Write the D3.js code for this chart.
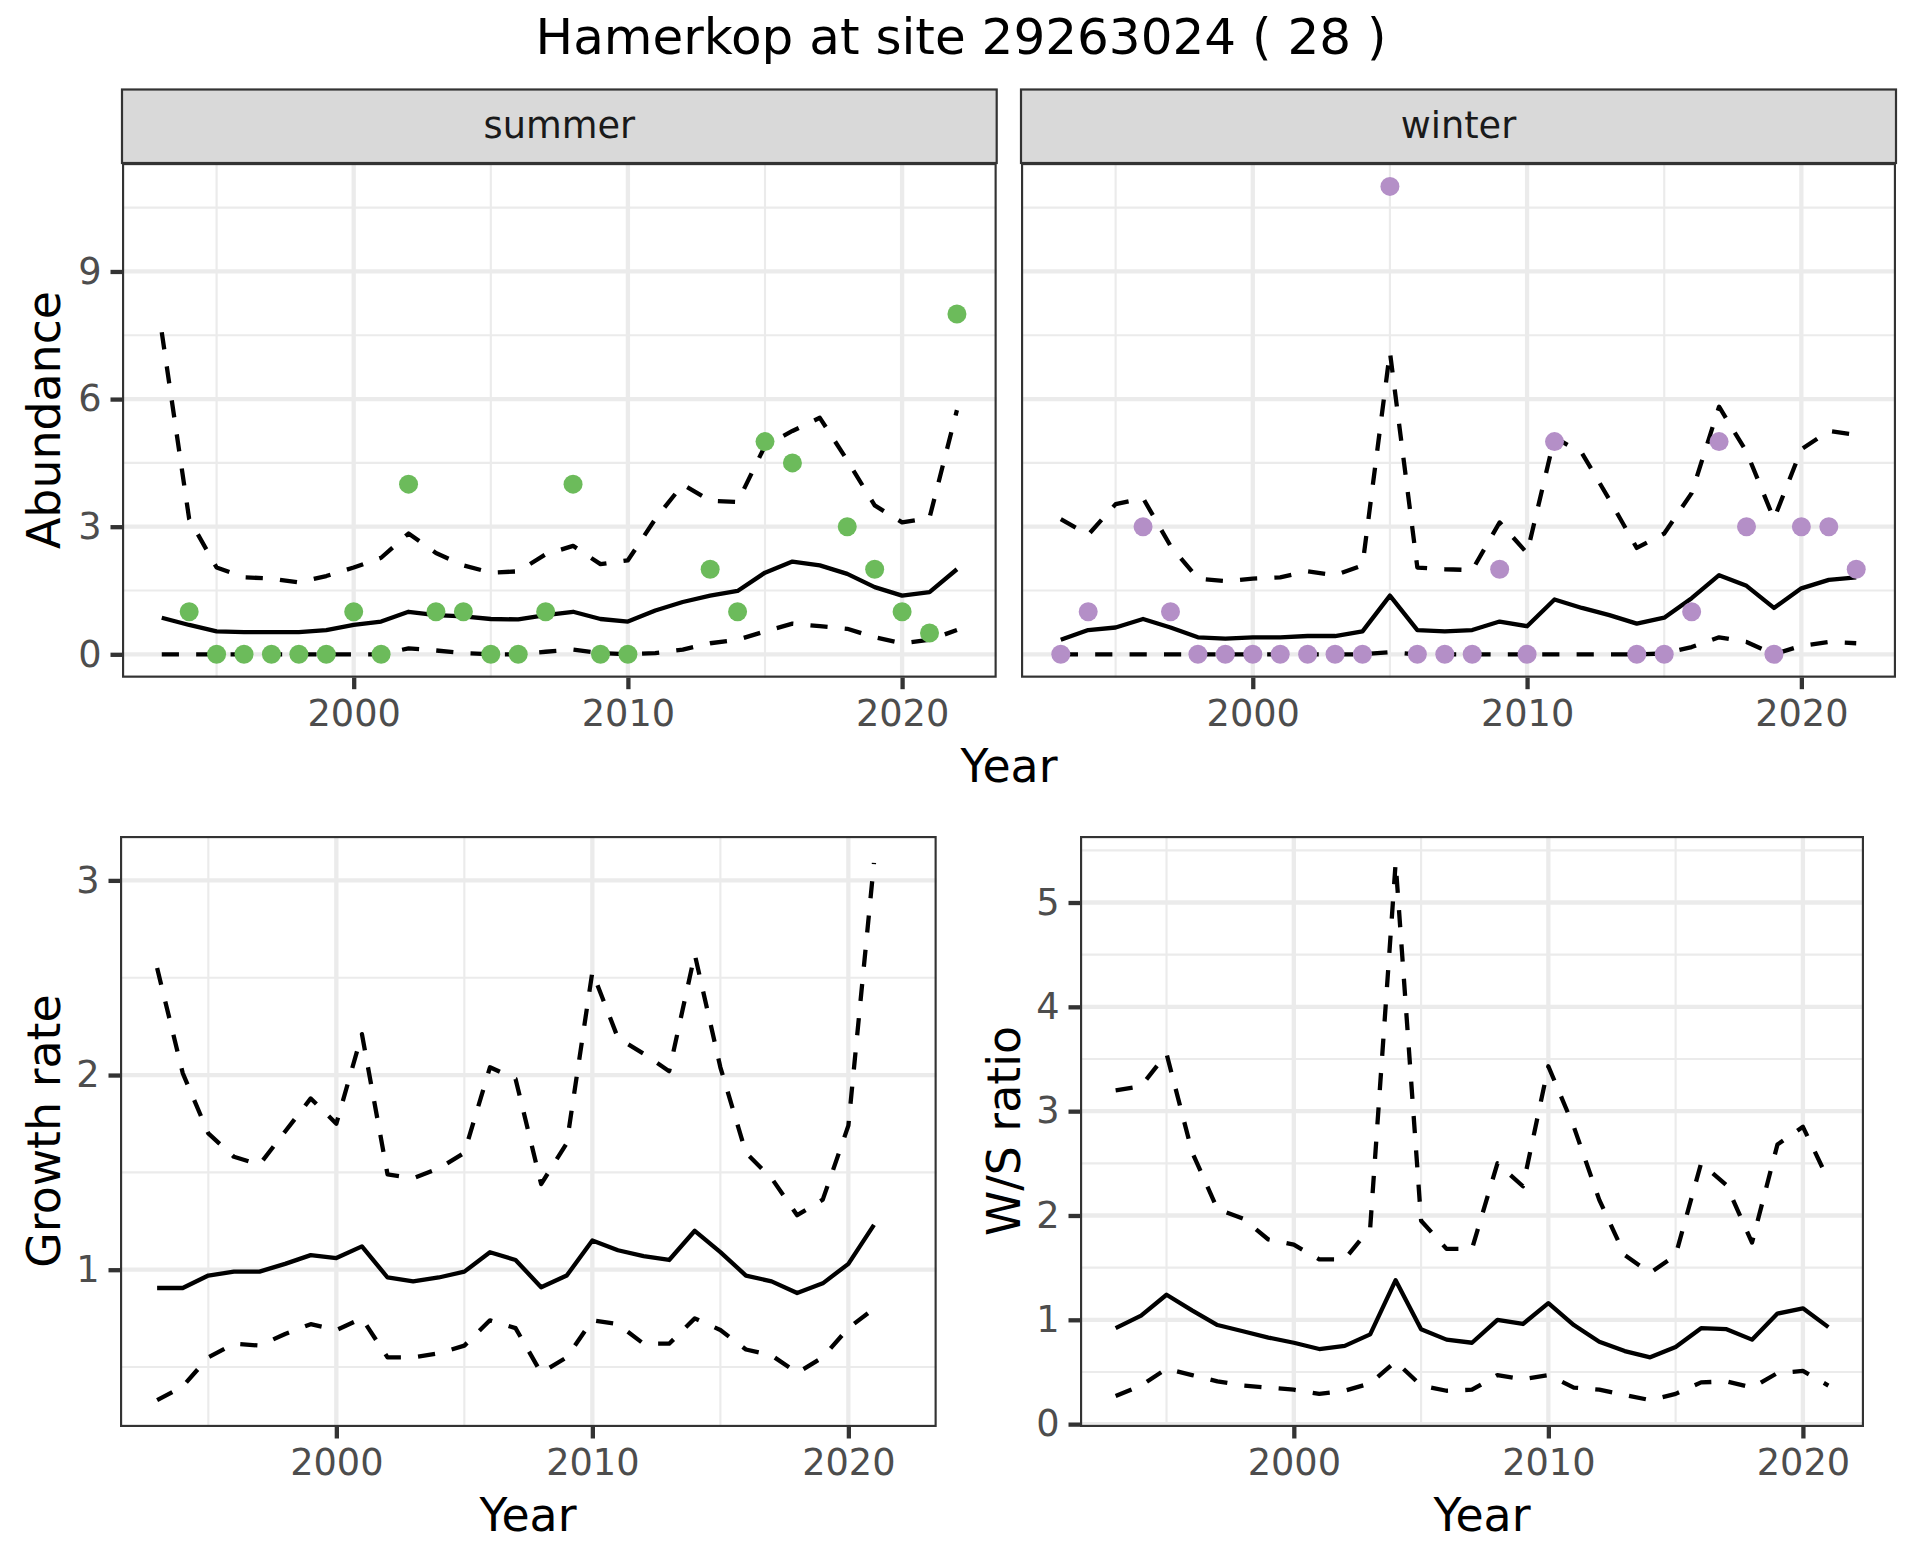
<!DOCTYPE html>
<html>
<head>
<meta charset="utf-8">
<script src="https://cdn.jsdelivr.net/npm/d3@7"></script>
<style>
  body { margin: 0; background: #fff; }
  text { font-family: "DejaVu Sans", sans-serif; }
</style>
</head>
<body>
<svg id="chart" width="1920" height="1560"></svg>
<script>
// ---- data ----
const years = [1993,1994,1995,1996,1997,1998,1999,2000,2001,2002,2003,2004,2005,2006,2007,
  2008,2009,2010,2011,2012,2013,2014,2015,2016,2017,2018,2019,2020,2021,2022];

const summerCount = [null,1,0,0,0,0,0,1,0,4,1,1,0,0,1,4,0,0,null,null,2,1,5,4.5,null,3,2,1,0.5,8];
const summerMean  = [0.86,0.69,0.54,0.52,0.52,0.52,0.57,0.69,0.77,1.0,0.92,0.89,0.83,0.82,0.92,
  1.0,0.83,0.77,1.03,1.23,1.38,1.49,1.92,2.18,2.09,1.89,1.58,1.38,1.46,2.0];
const summerUpper = [7.57,3.18,2.04,1.81,1.78,1.69,1.84,2.04,2.27,2.84,2.38,2.09,1.92,1.95,2.35,
  2.55,2.12,2.21,3.18,3.99,3.61,3.58,4.9,5.25,5.56,4.56,3.5,3.1,3.21,5.74];
const summerLower = [0,0,0,0,0,0,0,0,0,0.14,0.09,0.03,0,0,0.06,0.11,0.03,0,0.03,0.11,0.26,0.34,
  0.54,0.72,0.66,0.6,0.4,0.26,0.34,0.57];

const winterCount = [0,1,null,3,1,0,0,0,0,0,0,0,11,0,0,0,2,0,5,null,null,0,0,1,5,3,0,3,3,2];
const winterMean  = [0.34,0.57,0.63,0.83,0.63,0.4,0.37,0.4,0.4,0.43,0.43,0.54,1.38,0.57,0.54,
  0.57,0.77,0.66,1.29,1.09,0.92,0.72,0.86,1.32,1.86,1.61,1.09,1.55,1.75,1.81];
const winterUpper = [3.18,2.81,3.53,3.67,2.55,1.78,1.72,1.78,1.81,1.95,1.86,2.09,7.11,2.04,2.0,
  1.98,3.1,2.38,5.1,4.73,3.64,2.5,2.84,3.79,5.82,4.76,3.18,4.82,5.25,5.16];
const winterLower = [0,0,0,0,0,0,0,0,0,0,0,0,0.05,0,0,0,0,0,0,0,0,0,0.02,0.17,0.4,0.29,0,0.2,0.29,0.26];

const rateYears = [1993,1994,1995,1996,1997,1998,1999,2000,2001,2002,2003,2004,2005,2006,2007,
  2008,2009,2010,2011,2012,2013,2014,2015,2016,2017,2018,2019,2020,2021];

const growthMean  = [0.906,0.906,0.97,0.99,0.99,1.03,1.075,1.06,1.12,0.96,0.94,0.96,0.99,1.09,1.05,
  0.91,0.97,1.15,1.1,1.07,1.05,1.2,1.09,0.97,0.94,0.88,0.93,1.03,1.23];
const growthUpper = [2.55,2.01,1.7,1.58,1.54,1.71,1.88,1.75,2.21,1.49,1.47,1.52,1.6,2.04,1.98,
  1.44,1.65,2.53,2.19,2.11,2.02,2.62,2.04,1.6,1.47,1.28,1.36,1.74,3.09];
const growthLower = [0.33,0.4,0.55,0.62,0.61,0.67,0.72,0.69,0.75,0.55,0.55,0.57,0.61,0.74,0.7,
  0.47,0.55,0.74,0.72,0.62,0.62,0.75,0.69,0.59,0.56,0.47,0.55,0.7,0.8];

const ratioMean  = [0.92,1.04,1.24,1.09,0.95,0.89,0.83,0.78,0.72,0.75,0.86,1.38,0.91,0.81,0.78,
  1.0,0.96,1.16,0.95,0.79,0.7,0.64,0.74,0.92,0.91,0.81,1.06,1.11,0.93];
const ratioUpper = [3.2,3.24,3.55,2.61,2.06,1.97,1.77,1.72,1.58,1.58,1.88,5.38,1.95,1.68,1.68,
  2.5,2.28,3.43,2.85,2.15,1.62,1.45,1.62,2.5,2.29,1.74,2.68,2.85,2.34];
const ratioLower = [0.27,0.37,0.53,0.47,0.41,0.37,0.35,0.33,0.29,0.32,0.39,0.6,0.37,0.32,0.33,
  0.47,0.43,0.47,0.35,0.33,0.28,0.23,0.29,0.4,0.41,0.35,0.49,0.51,0.37];

const yearTicks = [2000, 2010, 2020];
const yearMinor = [1995, 2005, 2015];
const abundanceTicks = [0, 3, 6, 9];
const abundanceMinor = [1.5, 4.5, 7.5, 10.5];
const growthTicks = [1, 2, 3];
const growthMinor = [0.5, 1.5, 2.5];
const ratioTicks = [0, 1, 2, 3, 4, 5];
const ratioMinor = [0.5, 1.5, 2.5, 3.5, 4.5, 5.5];

// ---- style ----
const lw = 4.3;
const green = "#6CBB5B";
const purple = "#B48FC7";
const axisTextSize = 36.7;
const axisTitleSize = 45.8;

const svg = d3.select("#chart");

const expand = (vals) => {
  const [a, b] = d3.extent(vals.filter(v => v != null));
  const d = (b - a) * 0.05;
  return [a - d, b + d];
};

let clipId = 0;
function drawPanel(cfg) {
  const x = d3.scaleLinear().domain(expand(cfg.xDomain)).range([cfg.left, cfg.right]);
  const y = d3.scaleLinear().domain(cfg.yDomain).range([cfg.bottom, cfg.top]);
  const g = svg.append("g");

  g.append("rect").attr("x", cfg.left).attr("y", cfg.top)
    .attr("width", cfg.right - cfg.left).attr("height", cfg.bottom - cfg.top).attr("fill", "#fff");

  // grid
  g.selectAll(".vminor").data(yearMinor).join("line")
    .attr("x1", d => x(d)).attr("x2", d => x(d)).attr("y1", cfg.top).attr("y2", cfg.bottom)
    .attr("stroke", "#EBEBEB").attr("stroke-width", lw / 2);
  g.selectAll(".hminor").data(cfg.yMinor.filter(v => v > y.domain()[0] && v < y.domain()[1])).join("line")
    .attr("y1", d => y(d)).attr("y2", d => y(d)).attr("x1", cfg.left).attr("x2", cfg.right)
    .attr("stroke", "#EBEBEB").attr("stroke-width", lw / 2);
  g.selectAll(".vmajor").data(yearTicks).join("line")
    .attr("x1", d => x(d)).attr("x2", d => x(d)).attr("y1", cfg.top).attr("y2", cfg.bottom)
    .attr("stroke", "#EBEBEB").attr("stroke-width", lw);
  g.selectAll(".hmajor").data(cfg.yTicks).join("line")
    .attr("y1", d => y(d)).attr("y2", d => y(d)).attr("x1", cfg.left).attr("x2", cfg.right)
    .attr("stroke", "#EBEBEB").attr("stroke-width", lw);

  const id = "clip" + (clipId++);
  g.append("clipPath").attr("id", id).append("rect")
    .attr("x", cfg.left).attr("y", cfg.top)
    .attr("width", cfg.right - cfg.left).attr("height", cfg.bottom - cfg.top);
  const inner = g.append("g").attr("clip-path", `url(#${id})`);

  const line = d3.line().x(d => x(d[0])).y(d => y(d[1]));
  cfg.lines.forEach(s => {
    inner.append("path")
      .attr("d", line(cfg.xs.map((yr, i) => [yr, s.values[i]])))
      .attr("fill", "none").attr("stroke", "#000").attr("stroke-width", lw)
      .attr("stroke-linejoin", "round").attr("stroke-linecap", "butt")
      .attr("stroke-dasharray", s.dashed ? `${lw * 4},${lw * 4}` : null);
  });

  if (cfg.points) {
    inner.selectAll("circle")
      .data(cfg.xs.map((yr, i) => [yr, cfg.points[i]]).filter(d => d[1] != null))
      .join("circle")
      .attr("cx", d => x(d[0])).attr("cy", d => y(d[1])).attr("r", 9.5)
      .attr("fill", cfg.pointColor);
  }

  // border (clipped like ggplot)
  inner.append("rect").attr("x", cfg.left).attr("y", cfg.top)
    .attr("width", cfg.right - cfg.left).attr("height", cfg.bottom - cfg.top)
    .attr("fill", "none").attr("stroke", "#333333").attr("stroke-width", lw);

  // axes
  const axes = [];
  axes.push(g.append("g").attr("transform", `translate(0,${cfg.bottom})`)
    .call(d3.axisBottom(x).tickValues(yearTicks).tickSize(11.5).tickPadding(9).tickFormat(d3.format("d"))));
  axes[0].selectAll(".tick text").attr("dy", "0.76em");
  if (!cfg.noYAxis) {
    axes.push(g.append("g").attr("transform", `translate(${cfg.left},0)`)
      .call(d3.axisLeft(y).tickValues(cfg.yTicks).tickSize(11.5).tickPadding(9).tickFormat(d3.format("d"))));
  }
  axes.forEach(a => {
    a.select(".domain").remove();
    a.selectAll(".tick line").attr("stroke", "#333333").attr("stroke-width", lw);
    a.selectAll(".tick text").attr("fill", "#4D4D4D").style("font-size", axisTextSize + "px")
      .style("font-family", "DejaVu Sans");
  });

  if (cfg.strip) {
    g.append("rect").attr("x", cfg.left).attr("y", cfg.top - 73.5)
      .attr("width", cfg.right - cfg.left).attr("height", 73.5)
      .attr("fill", "#D9D9D9").attr("stroke", "#333333").attr("stroke-width", 2.2);
    g.append("text").attr("x", (cfg.left + cfg.right) / 2).attr("y", cfg.top - 73.5 / 2)
      .attr("dy", "0.33em").attr("text-anchor", "middle").attr("fill", "#1A1A1A")
      .style("font-size", axisTextSize + "px").text(cfg.strip);
  }
  return { x, y };
}

// ---- top: abundance facets ----
const abundanceDomain = expand([...summerCount, ...summerUpper, ...summerLower,
  ...winterCount, ...winterUpper, ...winterLower]);
const topBox = { top: 163, bottom: 677.7 };

drawPanel({ ...topBox, left: 122, right: 996.7, xDomain: years, xs: years,
  yDomain: abundanceDomain, yTicks: abundanceTicks, yMinor: abundanceMinor,
  lines: [{ values: summerUpper, dashed: true }, { values: summerLower, dashed: true }, { values: summerMean }],
  points: summerCount, pointColor: green, strip: "summer" });

drawPanel({ ...topBox, left: 1021, right: 1896, xDomain: years, xs: years,
  yDomain: abundanceDomain, yTicks: abundanceTicks, yMinor: abundanceMinor, noYAxis: true,
  lines: [{ values: winterUpper, dashed: true }, { values: winterLower, dashed: true }, { values: winterMean }],
  points: winterCount, pointColor: purple, strip: "winter" });

// ---- bottom: growth rate and W/S ratio ----
const botBox = { top: 836, bottom: 1427 };
drawPanel({ ...botBox, left: 120, right: 936.7, xDomain: years, xs: rateYears,
  yDomain: expand([...growthUpper, ...growthLower]), yTicks: growthTicks, yMinor: growthMinor,
  lines: [{ values: growthUpper, dashed: true }, { values: growthLower, dashed: true }, { values: growthMean }] });

drawPanel({ ...botBox, left: 1080, right: 1864, xDomain: rateYears, xs: rateYears,
  yDomain: expand([...ratioUpper, ...ratioLower]), yTicks: ratioTicks, yMinor: ratioMinor,
  lines: [{ values: ratioUpper, dashed: true }, { values: ratioLower, dashed: true }, { values: ratioMean }] });

// ---- titles ----
svg.append("text").attr("x", 961).attr("y", 54).attr("text-anchor", "middle")
  .style("font-size", "50px").attr("fill", "#000").text("Hamerkop at site 29263024 ( 28 )");

const axisTitle = (txt, x, y, rotate) => {
  const t = svg.append("text").attr("text-anchor", "middle").attr("fill", "#000")
    .style("font-size", axisTitleSize + "px").text(txt);
  if (rotate) t.attr("transform", `translate(${x},${y}) rotate(-90)`);
  else t.attr("x", x).attr("y", y);
};
axisTitle("Year", 1009, 782);
axisTitle("Abundance", 60, 420, true);
axisTitle("Year", 528, 1531);
axisTitle("Growth rate", 60, 1131, true);
axisTitle("Year", 1482, 1531);
axisTitle("W/S ratio", 1020, 1131, true);
</script>
</body>
</html>
